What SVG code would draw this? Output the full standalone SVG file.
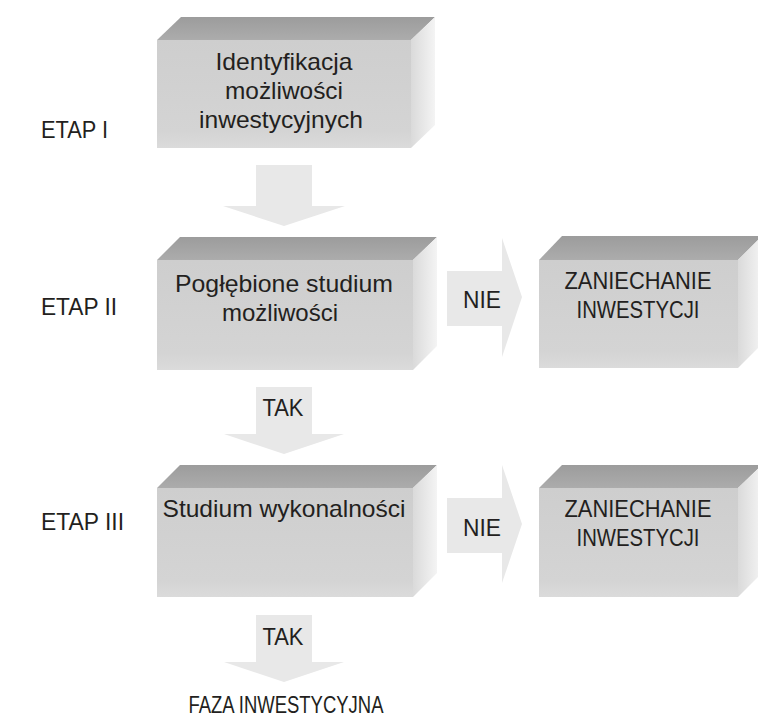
<svg xmlns="http://www.w3.org/2000/svg" width="758" height="718" viewBox="0 0 758 718">
  <defs>
    <linearGradient id="gTop" x1="0" y1="0" x2="0" y2="1">
      <stop offset="0" stop-color="#9c9c9c"/>
      <stop offset="1" stop-color="#acacac"/>
    </linearGradient>
    <linearGradient id="gFront" x1="0" y1="0" x2="0" y2="1">
      <stop offset="0" stop-color="#cecece"/>
      <stop offset="0.85" stop-color="#d4d4d4"/>
      <stop offset="1" stop-color="#dbdbdb"/>
    </linearGradient>
    <linearGradient id="gSide" x1="0" y1="0" x2="1" y2="0">
      <stop offset="0" stop-color="#dadada"/>
      <stop offset="1" stop-color="#f4f4f4"/>
    </linearGradient>
  </defs>
  <style>
    .top { fill: url(#gTop); }
    .front { fill: url(#gFront); }
    .side { fill: url(#gSide); }
    .arrow { fill: #e8e8e8; }
    text { font-family: "Liberation Sans", Arial, sans-serif; font-size: 24px; fill: #231f20; }
    .c { text-anchor: middle; }
  </style>

  <!-- stage labels -->
  <g id="labels">
    <text x="41" y="138" textLength="67" lengthAdjust="spacingAndGlyphs">ETAP I</text>
    <text x="41" y="315" textLength="76" lengthAdjust="spacingAndGlyphs">ETAP II</text>
    <text x="41" y="530" textLength="83" lengthAdjust="spacingAndGlyphs">ETAP III</text>
  </g>

  <!-- block arrows between stages -->
  <g id="connectors">
    <polygon class="arrow" points="256,165 312,165 312,206 345,206 284,226 223,206 256,206"/>
    <polygon class="arrow" points="256,387 312,387 312,434 344,434 284,454 224,434 256,434"/>
    <polygon class="arrow" points="256,615 312,615 312,662 344,662 284,682 224,662 256,662"/>
    <polygon class="arrow" points="447,271 502,271 502,238 522,297 502,357 502,326 447,326"/>
    <polygon class="arrow" points="447,498 502,498 502,465 522,524 502,583 502,553 447,553"/>
    <text class="c" x="283" y="416" textLength="41" lengthAdjust="spacingAndGlyphs">TAK</text>
    <text class="c" x="283" y="645" textLength="41" lengthAdjust="spacingAndGlyphs">TAK</text>
    <text class="c" x="482" y="308" textLength="38" lengthAdjust="spacingAndGlyphs">NIE</text>
    <text class="c" x="482" y="536" textLength="38" lengthAdjust="spacingAndGlyphs">NIE</text>
  </g>

  <!-- stage I -->
  <g id="identyfikacja">
    <polygon class="top" points="157,40 181,17 435,17 411,40"/>
    <polygon class="side" points="411,40 435,17 435,125 411,148"/>
    <rect class="front" x="157" y="40" width="254" height="108"/>
    <text class="c" x="284" y="70" textLength="137" lengthAdjust="spacingAndGlyphs">Identyfikacja</text>
    <text class="c" x="284" y="99" textLength="118" lengthAdjust="spacingAndGlyphs">możliwości</text>
    <text class="c" x="281" y="128" textLength="164" lengthAdjust="spacingAndGlyphs">inwestycyjnych</text>
  </g>

  <!-- stage II -->
  <g id="poglebione">
    <polygon class="top" points="157,260 180,237 437,237 413,260"/>
    <polygon class="side" points="413,260 437,237 437,346 413,370"/>
    <rect class="front" x="157" y="260" width="256" height="110"/>
    <text class="c" x="284" y="292" textLength="218" lengthAdjust="spacingAndGlyphs">Pogłębione studium</text>
    <text class="c" x="280" y="321" textLength="116" lengthAdjust="spacingAndGlyphs">możliwości</text>
  </g>

  <g id="zaniechanie1">
    <polygon class="top" points="539,260 562,236 762,236 738,260"/>
    <polygon class="side" points="738,260 762,236 762,344 738,368"/>
    <rect class="front" x="539" y="260" width="199" height="108"/>
    <text class="c" x="638" y="289" textLength="147" lengthAdjust="spacingAndGlyphs">ZANIECHANIE</text>
    <text class="c" x="638" y="318" textLength="123" lengthAdjust="spacingAndGlyphs">INWESTYCJI</text>
  </g>

  <!-- stage III -->
  <g id="wykonalnosc">
    <polygon class="top" points="157,488 180,465 437,465 413,488"/>
    <polygon class="side" points="413,488 437,465 437,573 413,597"/>
    <rect class="front" x="157" y="488" width="256" height="109"/>
    <text class="c" x="284" y="517" textLength="243" lengthAdjust="spacingAndGlyphs">Studium wykonalności</text>
  </g>

  <g id="zaniechanie2">
    <polygon class="top" points="539,488 562,465 762,465 738,488"/>
    <polygon class="side" points="738,488 762,465 762,573 738,597"/>
    <rect class="front" x="539" y="488" width="199" height="109"/>
    <text class="c" x="638" y="517" textLength="147" lengthAdjust="spacingAndGlyphs">ZANIECHANIE</text>
    <text class="c" x="638" y="546" textLength="123" lengthAdjust="spacingAndGlyphs">INWESTYCJI</text>
  </g>

  <g id="faza">
    <text class="c" x="286" y="713" textLength="195" lengthAdjust="spacingAndGlyphs">FAZA INWESTYCYJNA</text>
  </g>
</svg>
